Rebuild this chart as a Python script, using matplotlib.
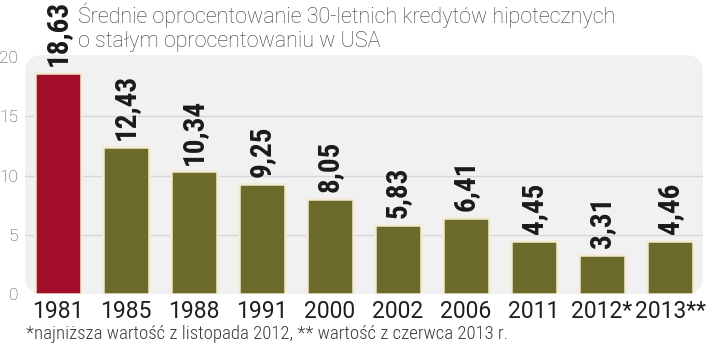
import matplotlib
matplotlib.use("Agg")
import matplotlib.pyplot as plt
from matplotlib.patches import FancyBboxPatch

categories = ["1981", "1985", "1988", "1991", "2000", "2002", "2006", "2011", "2012*", "2013**"]
values = [18.63, 12.43, 10.34, 9.25, 8.05, 5.83, 6.41, 4.45, 3.31, 4.46]
value_labels = ["18,63", "12,43", "10,34", "9,25", "8,05", "5,83", "6,41", "4,45", "3,31", "4,46"]
yticks = [0, 5, 10, 15, 20]
title = "Średnie oprocentowanie 30-letnich kredytów hipotecznych\no stałym oprocentowaniu w USA"
footnote = "*najniższa wartość z listopada 2012, ** wartość z czerwca 2013 r."

RED = "#A30F2B"
OLIVE = "#6B6A2A"
EDGE = "#F3ECD3"

W, H = 720, 351
fig = plt.figure(figsize=(W / 100, H / 100), dpi=100)
fig.patch.set_facecolor("white")

# axes in pixel coordinates
left, right, bottom, top = 25, 703, 351 - 294, 351 - 55
ax = fig.add_axes([left / W, bottom / H, (right - left) / W, (top - bottom) / H])
ax.set_facecolor("none")
ax.set_zorder(2)

# rounded background panel
panel = FancyBboxPatch((left / 100 + 0.1, bottom / 100 + 0.1),
                       (right - left) / 100 - 0.2, (top - bottom) / 100 - 0.2,
                       boxstyle="round,pad=0.1,rounding_size=0.18",
                       transform=fig.dpi_scale_trans, facecolor="#F1F1F1",
                       edgecolor="none", zorder=-10)
fig.patches.append(panel)

x = list(range(len(categories)))
colors = [RED] + [OLIVE] * (len(categories) - 1)
bars = ax.bar(x, values, width=0.69, color=colors, edgecolor=EDGE, linewidth=1.8, zorder=3)

for b in bars:
    b.set_joinstyle("round")

for xi, v, lab in zip(x, values, value_labels):
    ax.annotate(lab, (xi, v), xytext=(0, 5), textcoords="offset points",
                rotation=90, ha="center", va="bottom", fontsize=21,
                fontweight="bold", color="#1a1a1a",
                family=["Roboto Condensed", "DejaVu Sans"],
                annotation_clip=False, zorder=5)

ax.set_xlim(-0.485, 9.485)
ax.set_ylim(0, 20.17)
for yv in [5, 10, 15]:
    ax.axhline(yv, color="#D6D6D6", lw=1.0, zorder=1)

ax.set_yticks(yticks)
ax.set_yticklabels([str(t) for t in yticks], fontsize=12.5, color="#4a4a4a",
                   family=["Roboto", "DejaVu Sans"], fontweight="light")
ax.set_xticks(x)
ax.set_xticklabels(categories, fontsize=16.5, color="#1e1e1e",
                   family=["Roboto", "DejaVu Sans"])
ax.tick_params(axis="both", length=0)
ax.tick_params(axis="y", pad=5)
ax.tick_params(axis="x", pad=4)
for s in ax.spines.values():
    s.set_visible(False)

fig.text(78 / W, 1 - 2 / H, title, ha="left", va="top", fontsize=15.5,
         color="#3a3a3a", family=["Roboto", "DejaVu Sans"], fontweight="light",
         linespacing=1.2)
fig.text(26 / W, 1 - 343 / H, footnote, ha="left", va="bottom", fontsize=13.5,
         color="#3a3a3a", family=["Roboto Condensed", "DejaVu Sans"], fontweight="light")

fig.savefig("out.png", dpi=100, facecolor="white")
